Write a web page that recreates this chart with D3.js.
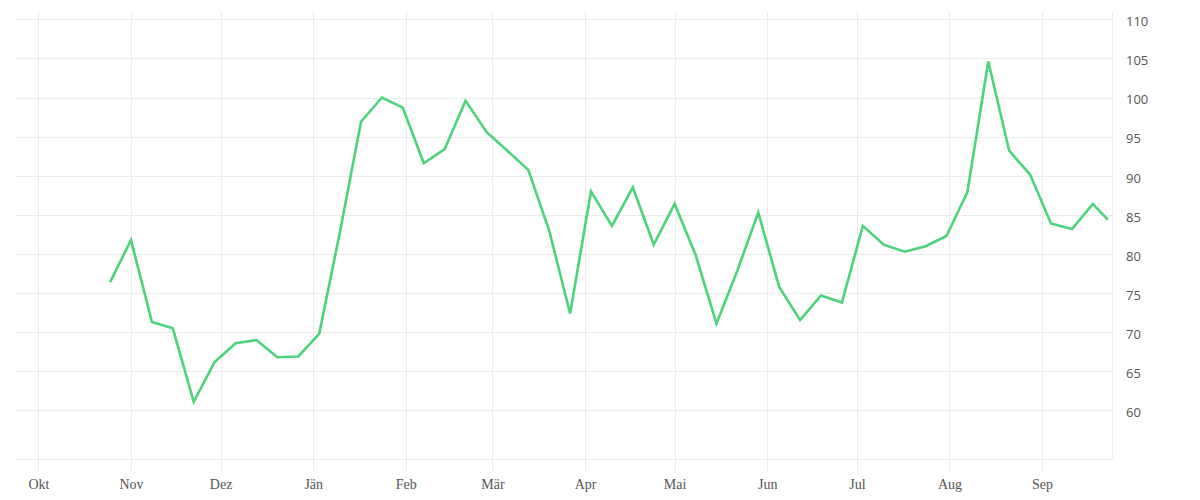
<!DOCTYPE html>
<html>
<head>
<meta charset="utf-8">
<script src="https://cdn.jsdelivr.net/npm/d3@7"></script>
<style>
  body { margin: 0; background: #fff; }
  svg { display: block; }
  .grid line { stroke: #ececec; stroke-width: 1; shape-rendering: crispEdges; }
  .x-axis text { font-family: "Liberation Serif", serif; font-size: 14px; fill: #555; }
  .y-axis text { font-family: "Open Sans", sans-serif; font-size: 13px; fill: #555; }
</style>
</head>
<body>
<svg id="chart"></svg>
<script>
// weekly values, Oct 2023 - Sep 2024
const dates = [
  "2023-10-25", "2023-11-01", "2023-11-08", "2023-11-15", "2023-11-22", "2023-11-29",
  "2023-12-06", "2023-12-13", "2023-12-20", "2023-12-27",
  "2024-01-03", "2024-01-10", "2024-01-17", "2024-01-24", "2024-01-31",
  "2024-02-07", "2024-02-14", "2024-02-21", "2024-02-28",
  "2024-03-06", "2024-03-13", "2024-03-20", "2024-03-27",
  "2024-04-03", "2024-04-10", "2024-04-17", "2024-04-24",
  "2024-05-01", "2024-05-08", "2024-05-15", "2024-05-22", "2024-05-29",
  "2024-06-05", "2024-06-12", "2024-06-19", "2024-06-26",
  "2024-07-03", "2024-07-10", "2024-07-17", "2024-07-24", "2024-07-31",
  "2024-08-07", "2024-08-14", "2024-08-21", "2024-08-28",
  "2024-09-04", "2024-09-11", "2024-09-18", "2024-09-23"
];

const values = [
  76.4, 81.8, 71.3, 70.5, 61.1, 66.2, 68.6, 69.0, 66.8, 66.9,
  69.8, 82.9, 96.9, 100.0, 98.7, 91.6, 93.4, 99.6, 95.6, 93.2,
  90.75, 83.0, 72.4, 88.0, 83.6, 88.5, 81.2, 86.4, 79.9, 71.1,
  77.9, 85.3, 75.8, 71.55, 74.7, 73.8, 83.6, 81.2, 80.3, 81.0,
  82.3, 87.9, 104.6, 93.2, 90.15, 83.9, 83.2, 86.4, 84.4
];

const monthLabels = ["Okt", "Nov", "Dez", "Jän", "Feb", "Mär", "Apr", "Mai", "Jun", "Jul", "Aug", "Sep"];
const yTicks = [60, 65, 70, 75, 80, 85, 90, 95, 100, 105, 110];

const width = 1200;
const height = 500;
const plotLeft = 15;
const plotRight = 1112;
const plotTop = 12;
const plotBottom = 459;

const parseDate = d3.timeParse("%Y-%m-%d");
const points = dates.map((d, i) => ({ date: parseDate(d), value: values[i] }));

const svg = d3.select("#chart").attr("width", width).attr("height", height);

const x = d3
  .scaleTime()
  .domain([new Date(2023, 8, 23, 4), new Date(2024, 8, 24, 10)])
  .range([plotLeft, plotRight]);

const y = d3.scaleLinear().domain([53.8, 110.93]).range([plotBottom, plotTop]);

const monthTicks = d3.timeMonth.range(new Date(2023, 9, 1), new Date(2024, 8, 2));

// vertical grid + month labels
svg
  .append("g")
  .attr("class", "grid x-axis")
  .attr("transform", `translate(0, ${plotBottom + 13})`)
  .call(
    d3
      .axisBottom(x)
      .tickValues(monthTicks)
      .tickSize(-(plotBottom + 13 - plotTop))
      .tickPadding(7)
      .tickFormat((d, i) => monthLabels[i])
  )
  .call((g) => g.select(".domain").remove());

// horizontal grid + value labels on the right
svg
  .append("g")
  .attr("class", "grid y-axis")
  .attr("transform", `translate(${plotRight}, 0)`)
  .call(
    d3
      .axisRight(y)
      .tickValues(yTicks)
      .tickSize(-(plotRight - plotLeft))
      .tickPadding(14)
  )
  .call((g) => g.select(".domain").remove())
  .call((g) => g.selectAll("text").attr("dy", "0.48em"));

// frame lines: bottom and right edge
const frame = svg.append("g").attr("class", "grid");
frame.append("line").attr("x1", plotLeft).attr("x2", plotRight).attr("y1", plotBottom).attr("y2", plotBottom);
frame.append("line").attr("x1", plotRight).attr("x2", plotRight).attr("y1", plotTop).attr("y2", plotBottom);

const line = d3
  .line()
  .x((d) => x(d.date))
  .y((d) => y(d.value));

svg
  .append("path")
  .datum(points)
  .attr("fill", "none")
  .attr("stroke", "#4cd37b")
  .attr("stroke-width", 2.6)
  .attr("stroke-linejoin", "miter")
  .attr("d", line);
</script>
</body>
</html>
